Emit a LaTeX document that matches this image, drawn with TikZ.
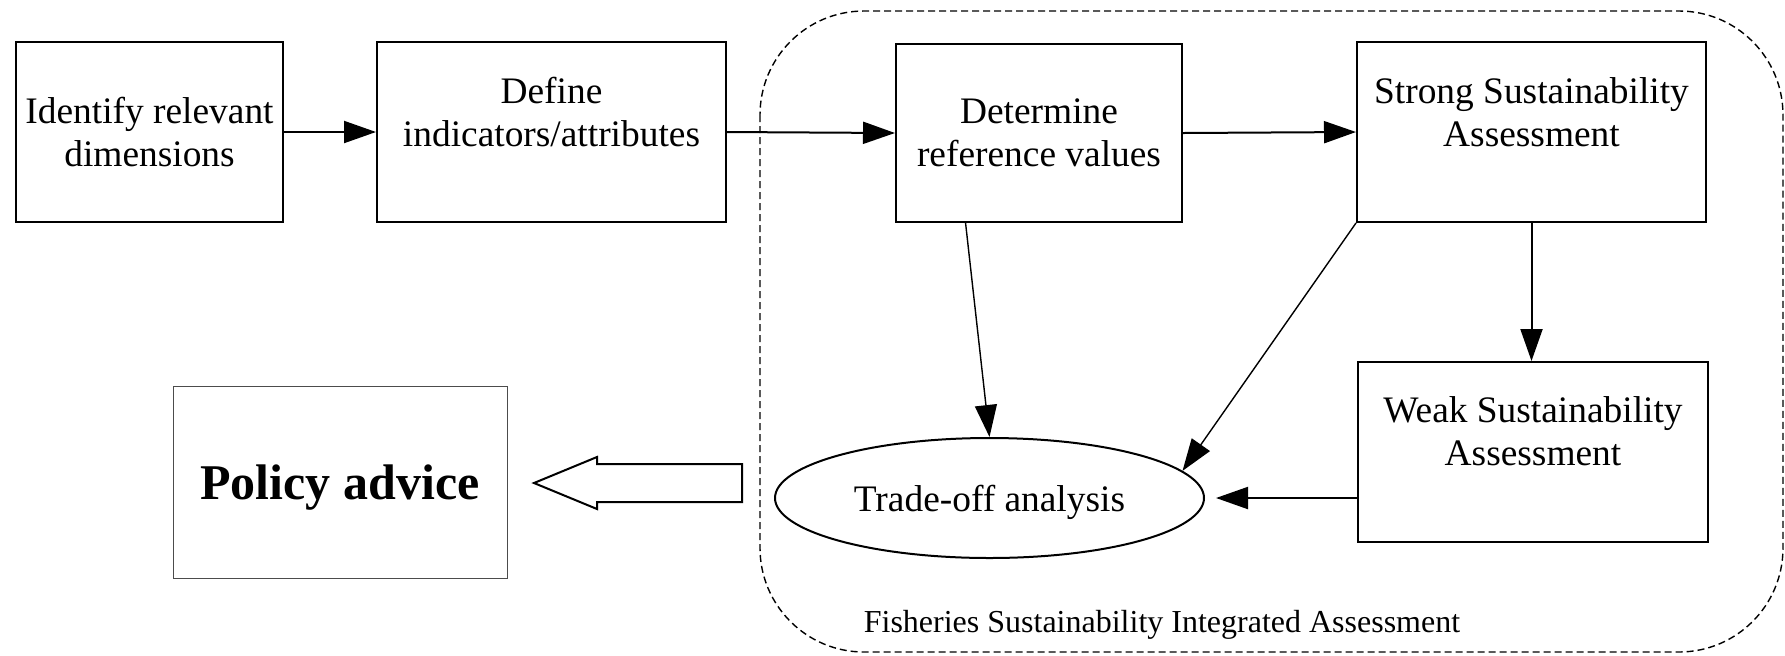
\documentclass[tikz,border=0pt]{standalone}
\usepackage{fontspec}
\setmainfont{Liberation Serif}
\usetikzlibrary{arrows.meta,shapes.geometric,calc}
\tikzset{
  boxnode/.style={draw,line width=1pt,inner sep=0pt,align=center,
    font=\fontsize{18.7}{21.7}\selectfont},
  ellnode/.style={draw,ellipse,line width=1pt,inner sep=0pt,text depth=0pt,
    minimum width=214.5pt,minimum height=60pt,
    font=\fontsize{18.7}{21.7}\selectfont},
  policynode/.style={draw=black!70,line width=0.5pt,inner sep=0pt,text depth=0pt,
    minimum width=167pt,minimum height=96pt,
    font=\bfseries\fontsize{25}{29}\selectfont},
  conn/.style={line width=0.7pt,-{Triangle[length=16pt,width=11pt]}},
  hconn/.style={line width=1pt,-{Triangle[length=16pt,width=11pt]}},
  container/.style={line width=0.7pt,dash pattern=on 3.5pt off 2pt,rounded corners=52pt},
  hollow/.style={draw,line width=1pt,fill=white,line join=miter}
}
\begin{document}
\begin{tikzpicture}[x=0.5pt,y=-0.5pt]
\useasboundingbox (0,0) rectangle (1785,655);
% container
\draw[container] (760,11) rectangle (1783,652);
\node[font=\fontsize{16}{19}\selectfont,anchor=base] (lbl) at (1162,632) {Fisheries Sustainability Integrated Assessment};
% boxes
\node[boxnode,minimum width=133.5pt,minimum height=90pt] (b1) at (149.5,132) {Identify relevant\\dimensions};
\node[boxnode,minimum width=174.5pt,minimum height=90pt] (b2) at (551.5,132) {Define\\indicators/attributes\\[-8pt]\strut};
\node[boxnode,minimum width=143pt,minimum height=89pt] (b3) at (1039,133) {Determine\\reference values};
\node[boxnode,minimum width=174.5pt,minimum height=90pt] (b4) at (1531.5,132) {Strong Sustainability\\Assessment\\[-8pt]\strut};
\node[boxnode,minimum width=175pt,minimum height=90pt] (b5) at (1533,452) {Weak Sustainability\\Assessment\\[-7pt]\strut};
\node[ellnode] (ell) at (989.5,498) {Trade-off analysis};
\node[policynode] (pol) at (340,482) {Policy advice};
% connectors
\draw[hconn] (b1.east) -- (b2.west);
\draw[hconn] (b2.east) -- (b3.west);
\draw[hconn] (b3.east) -- (b4.west);
\draw[hconn] (b4.south) -- (b4.south |- b5.north);
\draw[conn] ($(b3.south west)!0.245!(b3.south east)$) -- (ell.north);
\draw[conn] (b4.south west) -- (ell.8);
\draw[hconn,shorten >=5.5pt] (b5.west |- ell.east) -- (ell.east);
% hollow arrow
\draw[hollow] (742,464) -- (597,464) -- (597,457) -- (534,483) -- (597,509) -- (597,502) -- (742,502) -- cycle;
\end{tikzpicture}
\end{document}
